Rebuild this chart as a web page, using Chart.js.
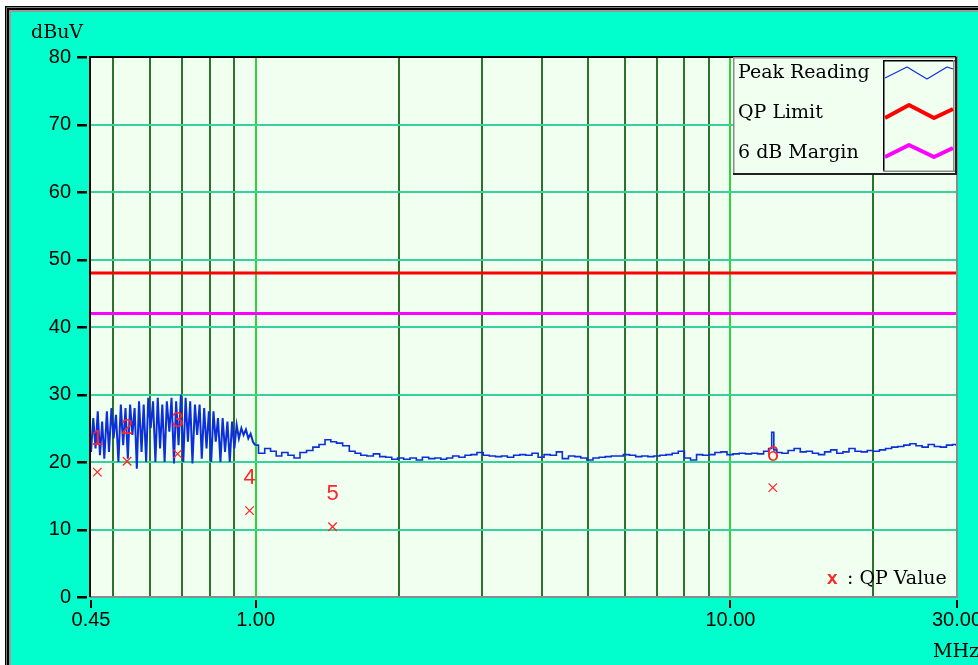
<!DOCTYPE html>
<html>
<head>
<meta charset="utf-8">
<script src="https://cdn.jsdelivr.net/npm/chart.js@4.4.1/dist/chart.umd.min.js"></script>
<style>
  html, body { margin: 0; padding: 0; background: #fff; overflow: hidden; }
  #wrap { width: 978px; height: 665px; position: relative; }
</style>
</head>
<body>
<div id="wrap"><canvas id="emc"></canvas></div>
<script>
// ── Data ──────────────────────────────────────────────────
// Peak trace: frequency (MHz) and level (dBuV), in sweep order
const peakFreq = [
  0.450, 0.455, 0.460, 0.465, 0.470, 0.475, 0.480, 0.486, 0.491, 0.497,
  0.502, 0.508, 0.514, 0.520, 0.526, 0.532, 0.538, 0.544, 0.550, 0.556,
  0.562, 0.568, 0.575, 0.581, 0.588, 0.594, 0.601, 0.608, 0.615, 0.622,
  0.629, 0.636, 0.643, 0.650, 0.658, 0.665, 0.673, 0.680, 0.688, 0.696,
  0.704, 0.712, 0.720, 0.728, 0.736, 0.745, 0.753, 0.762, 0.770, 0.779,
  0.788, 0.797, 0.806, 0.815, 0.824, 0.833, 0.843, 0.852, 0.862, 0.872,
  0.882, 0.892, 0.902, 0.912, 0.922, 0.933, 0.943, 0.954, 0.965, 0.976,
  0.987, 0.998,
  1.03, 1.06, 1.09, 1.12, 1.15, 1.19, 1.22, 1.26, 1.30, 1.34,
  1.38, 1.42, 1.46, 1.50, 1.55, 1.60, 1.64, 1.69, 1.74, 1.80,
  1.85, 1.91, 1.96, 2.02, 2.08, 2.15, 2.21, 2.28, 2.35, 2.42,
  2.49, 2.56, 2.64, 2.72, 2.80, 2.88, 2.97, 3.06, 3.15, 3.25,
  3.34, 3.44, 3.55, 3.65, 3.76, 3.88, 3.99, 4.11, 4.24, 4.36,
  4.49, 4.63, 4.77, 4.91, 5.06, 5.21, 5.37, 5.53, 5.69, 5.86,
  6.04, 6.22, 6.41, 6.60, 6.80, 7.00, 7.21, 7.43, 7.65, 7.88,
  8.12, 8.36, 8.61, 8.87, 9.14, 9.41, 9.69, 9.98, 10.28, 10.59,
  10.91, 11.24, 11.57, 11.92, 12.15, 12.28, 12.40, 12.65, 13.03, 13.42,
  13.82, 14.24, 14.66, 15.10, 15.56, 16.02, 16.50, 17.00, 17.51, 18.03,
  18.57, 19.13, 19.70, 20.29, 20.90, 21.53, 22.18, 22.84, 23.53, 24.23,
  24.96, 25.71, 26.48, 27.27, 28.09, 28.93, 29.80, 30.00,
];
const peakLevel = [
  21.5, 26.5, 22.0, 27.5, 21.0, 26.0, 20.5, 27.5, 21.5, 28.0,
  23.5, 27.0, 20.0, 28.5, 22.5, 28.0, 20.5, 28.5, 24.0, 28.0,
  19.0, 29.0, 21.5, 28.5, 20.0, 29.5, 25.0, 29.0, 20.0, 29.5,
  22.0, 28.5, 20.0, 29.0, 24.5, 29.5, 19.8, 29.0, 22.5, 30.0,
  20.0, 29.5, 23.0, 29.0, 19.8, 28.5, 24.0, 28.5, 20.5, 28.0,
  22.0, 27.5, 20.0, 27.5, 23.0, 26.5, 20.0, 26.5, 21.5, 26.0,
  20.0, 26.0, 22.0, 25.5, 23.5, 25.0, 24.0, 24.8, 23.5, 24.2,
  23.0, 22.5,
  21.3, 22.0, 21.6, 20.9, 21.4, 21.0, 20.6, 21.4, 21.7, 22.2,
  22.6, 23.3, 23.0, 22.8, 22.4, 21.6, 21.3, 21.0, 20.9, 21.2,
  20.8, 20.7, 20.4, 20.6, 20.4, 20.6, 20.3, 20.7, 20.5, 20.6,
  20.4, 20.6, 20.9, 20.7, 21.0, 21.1, 21.4, 21.0, 20.9, 20.8,
  20.9, 20.7, 21.0, 21.1, 21.0, 21.3, 20.7, 21.1, 21.0, 21.5,
  20.5, 20.9, 20.8, 20.6, 20.3, 20.6, 20.7, 20.8, 20.9, 20.9,
  21.1, 21.0, 20.8, 20.9, 20.8, 20.9, 21.0, 21.1, 21.3, 21.6,
  20.6, 20.3, 21.1, 21.0, 21.1, 21.4, 21.5, 21.1, 21.2, 21.3,
  21.2, 21.3, 21.2, 21.6, 22.0, 24.4, 21.8, 21.4, 21.3, 21.7,
  22.0, 21.5, 21.6, 21.3, 21.1, 21.5, 21.8, 21.3, 21.5, 22.0,
  21.6, 21.5, 21.7, 21.6, 21.8, 22.0, 22.2, 22.3, 22.5, 22.7,
  22.4, 22.2, 22.6, 22.3, 22.2, 22.5, 22.6, 22.5,
];
// sweep points below 1 MHz are the fast-toggling part, drawn unstepped
const peakSplit = 72;

// Quasi-peak spot measurements
const qpFreq   = [0.464, 0.536, 0.685, 0.971, 1.452, 12.28];
const qpLevel  = [18.5, 20.1, 21.2, 12.8, 10.4, 16.2];
const qpNames  = ['1', '2', '3', '4', '5', '6'];

// Limit lines
const limitFreq   = [0.45, 30];
const limitLevel  = [48, 48];
const marginLevel = [42, 42];

// Axes
const xGridFreq   = [0.45, 0.5, 0.6, 0.7, 0.8, 0.9, 1, 2, 3, 4, 5, 6, 7, 8, 9, 10, 20, 30];
const xLabelFreq  = [0.45, 1, 10, 30];
const xDecades    = [1, 10];
const yMin = 0, yMax = 80, yStep = 10;

// ── Colours ───────────────────────────────────────────────
const COLORS = {
  page:    '#00ffcc',
  plot:    '#f0fff0',
  hgrid:   '#35d39b',
  vgrid:   '#2c722e',
  decade:  '#2fd23a',
  peak:    '#0b2fd8',
  limit:   '#ff0000',
  margin:  '#ff00ff',
  qp:      '#ff2626',
};

const SERIF = '"DejaVu Serif", "Liberation Serif", serif';

Chart.defaults.font.family = '"Liberation Sans", Arial, sans-serif';
Chart.defaults.font.size   = 20;
Chart.defaults.color       = '#000';

const xy = (xs, ys) => xs.map((x, i) => ({ x, y: ys[i] }));
const peakPts = xy(peakFreq, peakLevel);

// ── Background, frame, legend box and annotations ─────────
const decor = {
  id: 'decor',
  beforeDraw(chart) {
    const { ctx, width, height, chartArea: a } = chart;
    ctx.save();
    ctx.fillStyle = '#fff';
    ctx.fillRect(0, 0, width, height);
    ctx.fillStyle = '#000';
    ctx.fillRect(5, 6, width, height);
    ctx.fillStyle = '#fff';
    ctx.fillRect(6.5, 7.5, width, height);
    ctx.fillStyle = '#000';
    ctx.fillRect(7, 8, width, height);
    ctx.fillStyle = '#9a9a9a';
    ctx.fillRect(9, 10, width, height);
    ctx.fillStyle = COLORS.page;
    ctx.fillRect(11, 12, width, height);
    ctx.fillStyle = COLORS.plot;
    ctx.fillRect(a.left, a.top, a.right - a.left, a.bottom - a.top);
    ctx.restore();
  },
  afterDatasetsDraw(chart) {
    const { ctx, chartArea: a, scales: { x, y } } = chart;
    ctx.save();

    // plot border: dark top/left, grey bottom/right
    ctx.fillStyle = '#8c8c8c';
    ctx.fillRect(a.right - 1, a.top - 1, 2, a.bottom - a.top + 2);
    ctx.fillRect(a.left - 1, a.bottom - 1, a.right - a.left + 1, 2);
    ctx.fillStyle = '#000';
    ctx.fillRect(a.left - 2, a.top - 1, 2, a.bottom - a.top + 1);
    ctx.fillRect(a.left - 2, a.top - 1, a.right - a.left + 1, 2);

    // short dash after each level label, detached from the axis
    ctx.fillStyle = '#000';
    y.ticks.forEach(t => {
      const py = Math.round(y.getPixelForValue(t.value));
      ctx.fillRect(a.left - 14, py - 1, 10, 2.5);
    });
    // small ticks below the labelled frequencies
    xLabelFreq.forEach(f => {
      const px = Math.round(x.getPixelForValue(f));
      ctx.fillRect(px - 1, a.bottom + 3, 2, 8);
    });

    // marker numbers above each QP cross
    ctx.fillStyle = COLORS.qp;
    ctx.font = '22px "Liberation Sans", sans-serif';
    ctx.textAlign = 'center';
    ctx.textBaseline = 'middle';
    qpFreq.forEach((f, i) => {
      ctx.fillText(qpNames[i], x.getPixelForValue(f), y.getPixelForValue(qpLevel[i]) - 33);
    });

    // legend box
    const L = 733, T = 57, R = 957, B = 175;
    ctx.fillStyle = COLORS.plot;
    ctx.fillRect(L, T, R - L, B - T);
    ctx.fillStyle = '#8a8a8a';
    ctx.fillRect(L, T, R - L, 1.5);
    ctx.fillRect(L, T, 1.5, B - T);
    ctx.fillStyle = '#202020';
    ctx.fillRect(R - 2, T, 2, B - T);
    ctx.fillRect(L, B - 2, R - L, 2);
    // sample well
    ctx.fillStyle = '#000';
    ctx.fillRect(883, 60, 1.5, 112);
    ctx.fillRect(883, 60, 72, 1.5);
    ctx.fillStyle = '#8a8a8a';
    ctx.fillRect(953, 60, 1.5, 112);
    ctx.fillRect(883, 170.5, 72, 1.5);

    ctx.fillStyle = '#000';
    ctx.font = '19px ' + SERIF;
    ctx.textAlign = 'left';
    ctx.textBaseline = 'middle';
    ctx.fillText('Peak Reading', 738, 73);
    ctx.fillText('QP Limit', 738, 113);
    ctx.fillText('6 dB Margin', 738, 153);

    const wave = (pts, color, w) => {
      ctx.beginPath();
      pts.forEach(([px, py], i) => (i ? ctx.lineTo(px, py) : ctx.moveTo(px, py)));
      ctx.strokeStyle = color;
      ctx.lineWidth = w;
      ctx.lineJoin = 'round';
      ctx.stroke();
    };
    wave([[885, 78], [907, 67], [927, 79], [947, 67], [953, 69]], COLORS.peak, 1.2);
    wave([[885, 118], [909, 105], [934, 118], [953, 109]], COLORS.limit, 4);
    wave([[885, 157], [909, 145], [934, 157], [953, 148]], COLORS.margin, 4);

    // axis units
    ctx.font = '19px ' + SERIF;
    ctx.textBaseline = 'alphabetic';
    ctx.fillText('dBuV', 31, 38);
    ctx.fillText('MHz', 933, 657);

    // QP key, bottom right
    ctx.fillStyle = COLORS.qp;
    ctx.font = 'bold 19px "Liberation Sans", sans-serif';
    ctx.fillText('x', 827, 584);
    ctx.fillStyle = '#000';
    ctx.font = '19px ' + SERIF;
    ctx.fillText(': QP Value', 847, 584);

    ctx.restore();
  },
};

// ── Chart ─────────────────────────────────────────────────
new Chart(document.getElementById('emc'), {
  type: 'line',
  data: {
    datasets: [
      {
        label: 'QP Value',
        data: xy(qpFreq, qpLevel),
        showLine: false,
        pointStyle: 'crossRot',
        pointRadius: 6,
        borderColor: COLORS.qp,
        borderWidth: 1.3,
      },
      {
        label: 'Peak Reading',
        data: peakPts.slice(0, peakSplit),
        borderColor: COLORS.peak,
        borderWidth: 2,
        pointRadius: 0,
      },
      {
        label: 'Peak Reading (above 1 MHz)',
        data: peakPts.slice(peakSplit - 1),
        borderColor: COLORS.peak,
        borderWidth: 1.6,
        pointRadius: 0,
        stepped: 'middle',
      },
      {
        label: 'QP Limit',
        data: xy(limitFreq, limitLevel),
        borderColor: COLORS.limit,
        borderWidth: 3,
        pointRadius: 0,
      },
      {
        label: '6 dB Margin',
        data: xy(limitFreq, marginLevel),
        borderColor: COLORS.margin,
        borderWidth: 3,
        pointRadius: 0,
      },
    ],
  },
  options: {
    responsive: true,
    maintainAspectRatio: false,
    animation: false,
    devicePixelRatio: 1,
    layout: { padding: { left: 0, top: 57, right: 21, bottom: 0 } },
    plugins: {
      legend: { display: false },   // drawn by the decor plugin
      tooltip: { enabled: false },
    },
    scales: {
      x: {
        type: 'logarithmic',
        min: limitFreq[0],
        max: limitFreq[1],
        border: { display: false },
        afterBuildTicks: s => { s.ticks = xGridFreq.map(v => ({ value: v })); },
        afterFit: s => { s.height = 68; s.paddingLeft = 0; s.paddingRight = 0; },
        grid: {
          lineWidth: 2,
          color: c => {
            const v = c.tick && c.tick.value;
            if (v === xGridFreq[0] || v === xGridFreq[xGridFreq.length - 1]) return 'rgba(0,0,0,0)';
            return xDecades.includes(v) ? COLORS.decade : COLORS.vgrid;
          },
          drawTicks: true,
          tickLength: 11,
          tickColor: 'rgba(0,0,0,0)',
        },
        ticks: {
          autoSkip: false,
          maxRotation: 0,
          minRotation: 0,
          padding: 0,
          callback: v => (xLabelFreq.includes(v) ? v.toFixed(2) : ''),
        },
      },
      y: {
        min: yMin,
        max: yMax,
        border: { display: false },
        afterFit: s => { s.width = 91; },
        grid: {
          lineWidth: 2,
          drawTicks: false,
          color: c => (c.tick && (c.tick.value === yMin || c.tick.value === yMax) ? 'rgba(0,0,0,0)' : COLORS.hgrid),
        },
        ticks: {
          stepSize: yStep,
          padding: 20,
        },
      },
    },
  },
  plugins: [decor],
});
</script>
</body>
</html>
